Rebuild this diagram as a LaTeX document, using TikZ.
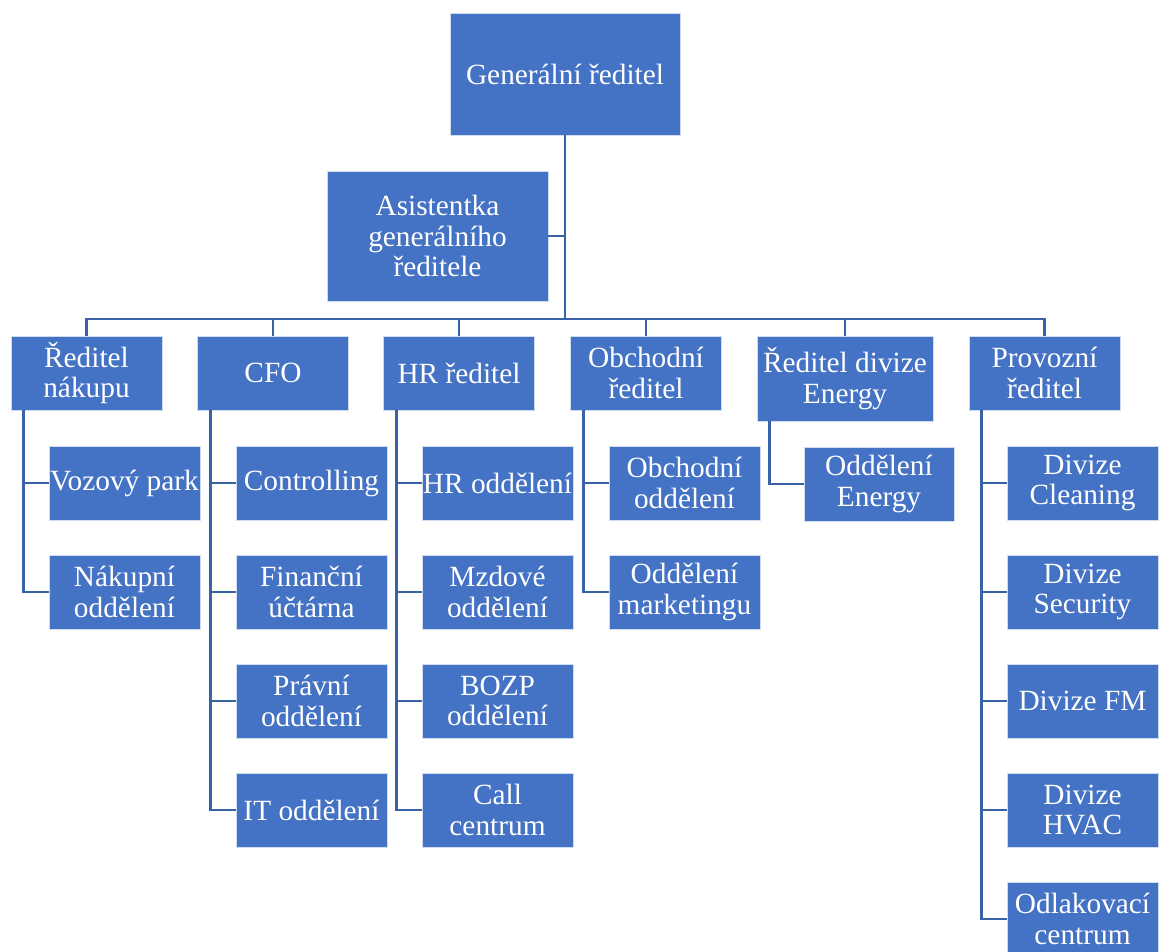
\documentclass[tikz,border=0pt]{standalone}
\usepackage{fontspec}
\setmainfont{Liberation Serif}
\definecolor{boxblue}{HTML}{4472C4}
\definecolor{lineblue}{HTML}{3A62A8}
\begin{document}
\begin{tikzpicture}[x=0.75pt,y=-0.75pt,
  orgbox/.style={rectangle, fill=boxblue, draw=white!75!boxblue, line width=0.6pt,
    text=white, align=center, inner sep=0pt,
    font=\fontsize{22}{23}\selectfont},
  lvl/.style={orgbox, minimum width=151*0.75pt, minimum height=74*0.75pt},
  conn/.style={draw=lineblue, line width=2.2pt}]
\useasboundingbox (0,0) rectangle (1160,952);
\clip (0,0) rectangle (1160,952);
% top
\node[orgbox, minimum width=230*0.75pt, minimum height=122*0.75pt] (gen) at (565,74) {Generální ředitel};
\node[orgbox, minimum width=221*0.75pt, minimum height=130*0.75pt] (asis) at (437.5,236) {Asistentka\\generálního\\ředitele};
% level 1
\node[lvl] (nak) at (86.5,373) {Ředitel\\nákupu};
\node[lvl] (cfo) at (273,373) {CFO};
\node[lvl] (hr) at (459,373) {HR ředitel};
\node[lvl] (obch) at (646,373) {Obchodní\\ředitel};
\node[lvl, minimum width=176*0.75pt, minimum height=85*0.75pt] (ene) at (845,378.5) {Ředitel divize\\Energy};
\node[lvl] (prov) at (1044.5,373) {Provozní\\ředitel};
% level 2
\node[lvl] (voz) at (124.5,483) {Vozový park};
\node[lvl] (nakodd) at (124.5,592) {Nákupní\\oddělení};
\node[lvl] (ctrl) at (311.5,483) {Controlling};
\node[lvl] (fin) at (311.5,592) {Finanční\\účtárna};
\node[lvl] (prav) at (311.5,701) {Právní\\oddělení};
\node[lvl] (it) at (311.5,810) {IT oddělení};
\node[lvl] (hrodd) at (497.5,483) {HR oddělení};
\node[lvl] (mzd) at (497.5,592) {Mzdové\\oddělení};
\node[lvl] (bozp) at (497.5,701) {BOZP\\oddělení};
\node[lvl] (call) at (497.5,810) {Call\\centrum};
\node[lvl] (obodd) at (684.5,483) {Obchodní\\oddělení};
\node[lvl] (mark) at (684.5,592) {Oddělení\\marketingu};
\node[lvl, minimum width=150*0.75pt] (eneodd) at (879,484) {Oddělení\\Energy};
\node[lvl] (clean) at (1082.5,483) {Divize\\Cleaning};
\node[lvl] (sec) at (1082.5,592) {Divize\\Security};
\node[lvl] (fm) at (1082.5,701) {Divize FM};
\node[lvl] (hvac) at (1082.5,810) {Divize\\HVAC};
\node[lvl] (odl) at (1082.5,919) {Odlakovací\\centrum};
% trunk and bus
\coordinate (bus) at (565,319);
\draw[conn] (gen.south) -- (bus);
\draw[conn] (asis.east) -- (asis.east -| gen.south);
\draw[conn] (nak.north) |- (bus) -| (prov.north);
\foreach \n in {cfo,hr,obch,ene}{\draw[conn] (\n.north) -- (\n.north |- bus);}
% level 2 connectors
\foreach \p/\c in {nak/voz,nak/nakodd,cfo/ctrl,cfo/fin,cfo/prav,cfo/it,hr/hrodd,hr/mzd,hr/bozp,hr/call,obch/obodd,obch/mark,ene/eneodd,prov/clean,prov/sec,prov/fm,prov/hvac,prov/odl}{
  \draw[conn] ([xshift=13*0.75pt]\p.south west) |- (\c.west);
}
\end{tikzpicture}
\end{document}
